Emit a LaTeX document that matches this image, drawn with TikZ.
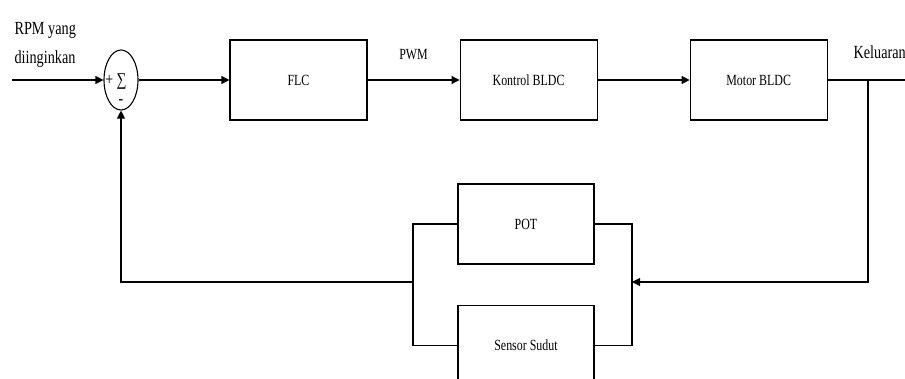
\documentclass[tikz,border=0pt]{standalone}
\usepackage{fontspec}
\setmainfont{Liberation Serif}[FakeStretch=0.77]
\usetikzlibrary{arrows.meta,positioning,shapes.geometric}

\begin{document}
\begin{tikzpicture}[x=1pt, y=-1pt, line width=1.1pt, font=\fontsize{15.5}{18}\selectfont,
    node distance=92pt and 92pt,
    blok/.style={draw, minimum width=137pt, minimum height=80pt, inner sep=0pt},
    panah/.style={-{Triangle[length=8pt,width=8pt]}}]
  \clip (0,0) rectangle (905,378);
  % forward path
  \node[ellipse, draw, minimum width=34pt, minimum height=60pt, inner sep=0pt] (sum) at (121,80) {};
  \node[inner sep=0pt, font=\fontsize{18}{20}\selectfont] (tanda) at (116,82) {+ \char"2211};
  \node[inner sep=0pt, font=\fontsize{18}{20}\selectfont] (minus) at (121,102) {-};
  \node[blok] (flc) at (298.5,80) {FLC};
  \node[blok, right=of flc] (kontrol) {Kontrol BLDC};
  \node[blok, right=of kontrol] (motor) {Motor BLDC};
  % feedback path
  \node[blok, minimum width=136pt] (pot) at (526,224) {POT};
  \node[blok, minimum width=136pt, below=40pt of pot] (sensor) {Sensor Sudut};
  \node[anchor=north west, inner sep=0pt, align=left, font=\fontsize{18.5}{29}\selectfont]
    (rpm) at (14,22) {RPM yang\\diinginkan};
  \node[anchor=base west, inner sep=0pt, font=\fontsize{18.5}{22}\selectfont]
    (out) at (853,58) {Keluaran};
  \coordinate (masuk) at (12,80);
  \coordinate (keluar) at (905,80);
  \coordinate (cabang) at (868,80);
  \coordinate (kanan) at (632,282);
  \coordinate (kiri) at (413,282);
  \draw[panah] (masuk) -- (sum.west);
  \draw[panah] (sum) -- (flc);
  \draw[panah] (flc) -- (kontrol) node[midway, above=16pt] (pwm) {PWM};
  \draw[panah] (kontrol) -- (motor);
  \draw (motor) -- (keluar);
  \draw[panah] (cabang) |- (kanan);
  \draw (pot.east) -| (kanan) |- (sensor.east);
  \draw (pot.west) -| (kiri) |- (sensor.west);
  \draw[panah] (kiri) -| (sum.south);
\end{tikzpicture}
\end{document}
